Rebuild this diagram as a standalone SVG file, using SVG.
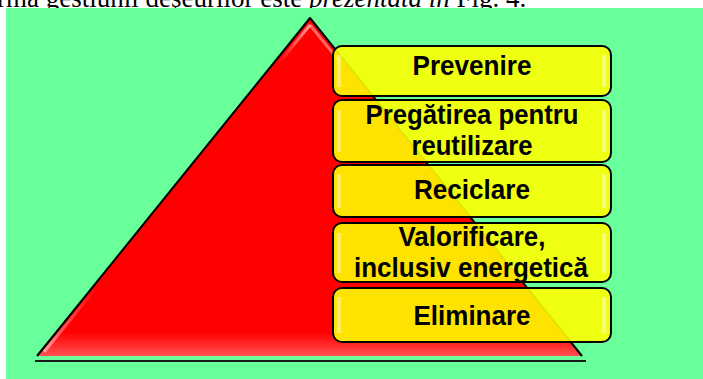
<svg xmlns="http://www.w3.org/2000/svg" width="703" height="379" viewBox="0 0 703 379">
<defs>
<style>
.cap{font-family:"Liberation Serif","Times New Roman",serif;font-size:27px;fill:#000}
.box{fill:#FFFF00;fill-opacity:0.89;stroke:#000;stroke-width:2}
.lbl{font-family:"Liberation Sans",Arial,sans-serif;font-weight:bold;font-size:28px;fill:#000;text-anchor:middle}
.hl{fill:url(#hlg)}
</style>
<linearGradient id="hlg" x1="0" y1="0" x2="1" y2="0">
<stop offset="0" stop-color="#fff" stop-opacity="0"/>
<stop offset="0.5" stop-color="#fff" stop-opacity="0.55"/>
<stop offset="1" stop-color="#fff" stop-opacity="0"/>
</linearGradient>
<linearGradient id="edgeL" x1="0" y1="0" x2="0" y2="1">
<stop offset="0" stop-color="#fff" stop-opacity="0.6"/>
<stop offset="0.12" stop-color="#fff" stop-opacity="0"/>
<stop offset="0.8" stop-color="#fff" stop-opacity="0"/>
<stop offset="1" stop-color="#fff" stop-opacity="0.5"/>
</linearGradient>
<linearGradient id="triBottom" x1="0" y1="0" x2="0" y2="1">
<stop offset="0.93" stop-color="#FF0000"/>
<stop offset="1" stop-color="#FF5050"/>
</linearGradient>
<filter id="blur" x="-5%" y="-200%" width="110%" height="500%">
<feGaussianBlur stdDeviation="1.8"/>
</filter>
</defs>
<rect x="0" y="0" width="703" height="379" fill="#ffffff"/>
<text class="cap" x="-3" y="7">rma gestiunii deşeurilor este <tspan font-style="italic">prezentată în</tspan> Fig. 4.</text>
<rect x="6" y="8" width="697" height="371" fill="#69FF9A"/>
<g id="pyramid">
<line x1="37" y1="364" x2="586" y2="364" stroke="#000" stroke-opacity="0.45" stroke-width="3" filter="url(#blur)"/>
<line x1="35" y1="361" x2="586" y2="361" stroke="#1a1a1a" stroke-width="2"/>
<path d="M37,356 L310,18 L582,356 Z" fill="url(#triBottom)"/>
<path d="M37,356 L310,18 L582,356" fill="none" stroke="#000" stroke-width="2" stroke-linejoin="round"/>
<path d="M44,352 L310,25" fill="none" stroke="url(#edgeL)" stroke-width="3"/>
<path d="M310,25 L340,62" fill="none" stroke="#fff" stroke-opacity="0.4" stroke-width="3"/>
</g>
<g id="node-prevenire">
<rect class="box" x="333" y="46" width="278" height="50" rx="9"/>
<rect class="hl" x="336" y="55" width="6" height="32"/>
<rect class="hl" x="601" y="55" width="6" height="32"/>
<text class="lbl" x="472" y="75" textLength="119" lengthAdjust="spacingAndGlyphs">Prevenire</text>
</g>
<g id="node-pregatirea">
<rect class="box" x="333" y="100" width="278" height="62" rx="9"/>
<rect class="hl" x="336" y="110" width="6" height="42"/>
<rect class="hl" x="601" y="110" width="6" height="42"/>
<text class="lbl" x="472" y="124" textLength="213" lengthAdjust="spacingAndGlyphs">Pregătirea pentru</text>
<text class="lbl" x="472" y="155" textLength="121" lengthAdjust="spacingAndGlyphs">reutilizare</text>
</g>
<g id="node-reciclare">
<rect class="box" x="333" y="165" width="278" height="52" rx="9"/>
<rect class="hl" x="336" y="174" width="6" height="34"/>
<rect class="hl" x="601" y="174" width="6" height="34"/>
<text class="lbl" x="472" y="199" textLength="116" lengthAdjust="spacingAndGlyphs">Reciclare</text>
</g>
<g id="node-valorificare">
<rect class="box" x="333" y="223" width="278" height="59" rx="9"/>
<rect class="hl" x="336" y="233" width="6" height="40"/>
<rect class="hl" x="601" y="233" width="6" height="40"/>
<text class="lbl" x="472" y="246" textLength="147" lengthAdjust="spacingAndGlyphs">Valorificare,</text>
<text class="lbl" x="471" y="277" textLength="234" lengthAdjust="spacingAndGlyphs">inclusiv energetică</text>
</g>
<g id="node-eliminare">
<rect class="box" x="333" y="288" width="278" height="54" rx="9"/>
<rect class="hl" x="336" y="297" width="6" height="36"/>
<rect class="hl" x="601" y="297" width="6" height="36"/>
<text class="lbl" x="472" y="325" textLength="117" lengthAdjust="spacingAndGlyphs">Eliminare</text>
</g>
<g id="connectors"/>
</svg>
